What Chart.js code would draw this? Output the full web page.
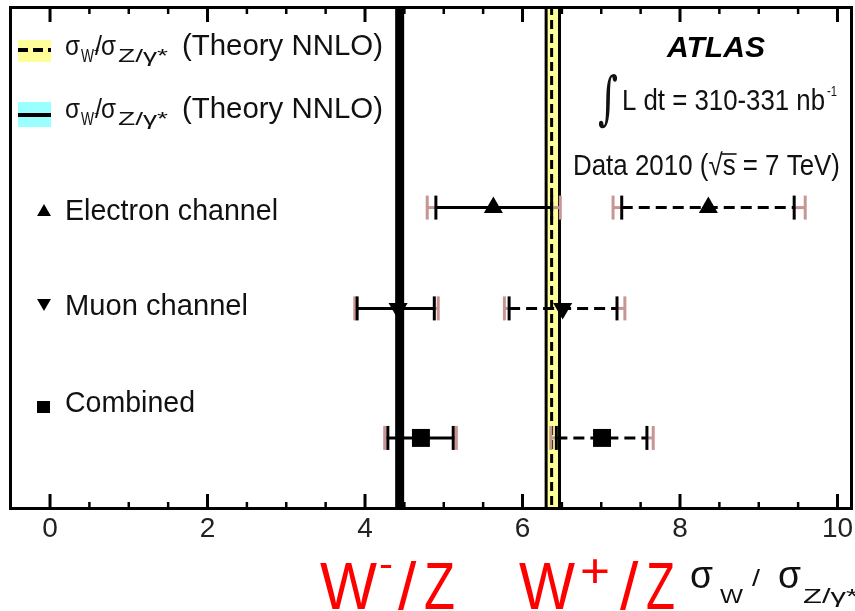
<!DOCTYPE html>
<html>
<head>
<meta charset="utf-8">
<script src="https://cdn.jsdelivr.net/npm/chart.js@4.4.0/dist/chart.umd.min.js"></script>
<style>
html, body { margin: 0; padding: 0; background: #fff; }
#wrap { width: 855px; height: 611px; }
</style>
</head>
<body>
<div id="wrap"><canvas id="chart" width="855" height="611"></canvas></div>
<script>
// rows, top to bottom
var channels = ["Electron channel", "Muon channel", "Combined"];
var rowY = [6.0, 4.0, 1.43];
var markerStyle = ["triangle", "triangle", "rect"];
var markerRot = [0, 180, 0];

// W-/Z ratio
var wmVal    = [5.63, 4.42, 4.71];
var wmStatLo = [4.90, 3.90, 4.29];
var wmStatHi = [6.37, 4.88, 5.12];
var wmTotLo  = [4.79, 3.87, 4.25];
var wmTotHi  = [6.48, 4.93, 5.16];

// W+/Z ratio
var wpVal    = [8.36, 6.51, 7.01];
var wpStatLo = [7.26, 5.83, 6.43];
var wpStatHi = [9.45, 7.20, 7.58];
var wpTotLo  = [7.15, 5.77, 6.36];
var wpTotHi  = [9.59, 7.30, 7.66];

// theory NNLO
var thWm = 4.44;
var thWp = 6.37, thWpLo = 6.30, thWpHi = 6.47;

var xTicks = [0, 2, 4, 6, 8, 10];
var xMinor = 0.5;

var FONT = "'Liberation Sans', Arial, sans-serif";
var pink = "#c99494";

function seg(c, x1, y1, x2, y2) {
    c.beginPath(); c.moveTo(x1, y1); c.lineTo(x2, y2); c.stroke();
}

// text squeezed to a given width (the original lettering is narrow)
function txt(c, s, x, y, font, w, color) {
    c.save();
    c.font = font;
    c.fillStyle = color || "#111";
    c.textBaseline = "alphabetic";
    c.textAlign = "left";
    var m = c.measureText(s).width;
    c.translate(x, y);
    if (w) c.scale(w / m, 1);
    c.fillText(s, 0, 0);
    c.restore();
}

function errBar(c, xs, py, lo, hi, tlo, thi, dashed) {
    var h = 12;
    c.setLineDash([]);
    c.lineWidth = 3;
    c.strokeStyle = pink;
    seg(c, xs.getPixelForValue(tlo), py, xs.getPixelForValue(lo), py);
    seg(c, xs.getPixelForValue(hi), py, xs.getPixelForValue(thi), py);
    seg(c, xs.getPixelForValue(tlo), py - h, xs.getPixelForValue(tlo), py + h);
    seg(c, xs.getPixelForValue(thi), py - h, xs.getPixelForValue(thi), py + h);
    c.strokeStyle = "#000";
    seg(c, xs.getPixelForValue(lo), py - h, xs.getPixelForValue(lo), py + h);
    seg(c, xs.getPixelForValue(hi), py - h, xs.getPixelForValue(hi), py + h);
    if (dashed) c.setLineDash([11, 6]);
    seg(c, xs.getPixelForValue(lo), py, xs.getPixelForValue(hi), py);
    c.setLineDash([]);
}

function tri(c, x, y, r, down) {
    var s = down ? -1 : 1;
    c.beginPath();
    c.moveTo(x, y - s * r);
    c.lineTo(x + r * 0.866, y + s * r / 2);
    c.lineTo(x - r * 0.866, y + s * r / 2);
    c.closePath(); c.fill();
}

var marks = {
    id: "marks",
    beforeDatasetsDraw: function (chart) {
        var c = chart.ctx, a = chart.chartArea, xs = chart.scales.x, ys = chart.scales.y;
        c.save();
        // W+ theory band
        var l = xs.getPixelForValue(thWpLo), r = xs.getPixelForValue(thWpHi);
        c.fillStyle = "#ffff99";
        c.fillRect(l, a.top, r - l, a.bottom - a.top);
        c.strokeStyle = "#000";
        c.lineWidth = 3;
        seg(c, l, a.top, l, a.bottom);
        seg(c, r, a.top, r, a.bottom);
        c.setLineDash([9, 5]);
        seg(c, xs.getPixelForValue(thWp), a.top, xs.getPixelForValue(thWp), a.bottom);
        c.setLineDash([]);
        // W- theory line
        c.lineWidth = 9;
        seg(c, xs.getPixelForValue(thWm), a.top, xs.getPixelForValue(thWm), a.bottom);

        for (var i = 0; i < channels.length; i++) {
            var py = ys.getPixelForValue(rowY[i]);
            errBar(c, xs, py, wmStatLo[i], wmStatHi[i], wmTotLo[i], wmTotHi[i], false);
            errBar(c, xs, py, wpStatLo[i], wpStatHi[i], wpTotLo[i], wpTotHi[i], true);
        }
        c.restore();
    },
    afterDraw: function (chart) {
        var c = chart.ctx, a = chart.chartArea, xs = chart.scales.x;
        c.save();
        // frame
        c.strokeStyle = "#000";
        c.lineWidth = 3;
        c.strokeRect(a.left + 1.5, a.top + 1.5, a.right - a.left - 3, a.bottom - a.top - 3);
        // inward ticks top and bottom
        for (var v = -0.5; v <= 10.001; v += xMinor) {
            var px = xs.getPixelForValue(v);
            var major = xTicks.indexOf(Math.round(v * 10) / 10) >= 0;
            var len = major ? 16 : 8;
            c.lineWidth = major ? 3 : 2.5;
            seg(c, px, a.top, px, a.top + len);
            seg(c, px, a.bottom, px, a.bottom - len);
        }

        // legend: theory
        c.fillStyle = "#ffff99";
        c.fillRect(18, 40, 33, 22);
        c.lineWidth = 4;
        c.setLineDash([10, 5]);
        seg(c, 18, 50, 51, 50);
        c.setLineDash([]);
        c.fillStyle = "#99ffff";
        c.fillRect(18, 102, 33, 25);
        seg(c, 18, 115, 51, 115);

        var sgn = ["+", "\u2212"];
        var base = [55, 118];
        for (var k = 0; k < 2; k++) {
            var b = base[k];
            txt(c, "\u03c3", 65, b, "28px " + FONT, 15);
            txt(c, "W", 81, b + 7, "18px " + FONT, 13);
            txt(c, sgn[k], 94, b - 1, "11px " + FONT, 5);
            txt(c, "/", 95, b, "28px " + FONT, 7);
            txt(c, "\u03c3", 101, b, "28px " + FONT, 15);
            txt(c, "Z/\u03b3*", 118, b + 7, "18px " + FONT, 50);
            txt(c, "(Theory NNLO)", 182, b, "30px " + FONT, 201);
        }

        // legend: channels
        c.fillStyle = "#000";
        tri(c, 44, 212, 8, false);
        tri(c, 44, 303, 8, true);
        c.fillRect(37, 401, 13, 12);
        txt(c, channels[0], 65, 220, "30px " + FONT, 213);
        txt(c, channels[1], 65, 315, "30px " + FONT, 183);
        txt(c, channels[2], 65, 412, "30px " + FONT, 130);

        // top right labels
        txt(c, "ATLAS", 667, 57, "italic bold 30px " + FONT, 98, "#000");
        txt(c, "\u222b", 598, 118, "58px 'DejaVu Serif', serif", 20);
        txt(c, "L dt = 310-331 nb", 622, 110, "30px " + FONT, 203);
        txt(c, "-1", 827, 96, "15px " + FONT, 10);
        var dataStr = "Data 2010 (\u221as = 7 TeV)";
        txt(c, dataStr, 573, 175, "30px " + FONT, 267);
        c.font = "30px " + FONT;
        var k2 = 267 / c.measureText(dataStr).width;
        var s0 = 573 + c.measureText("Data 2010 (\u221a").width * k2;
        var s1 = 573 + c.measureText("Data 2010 (\u221as").width * k2;
        c.lineWidth = 1.5;
        seg(c, s0 - 1, 154, s1 + 1, 154);

        // bottom lettering
        var red = "#ff0000";
        var big = "66px " + FONT;
        txt(c, "W", 320, 609, big, 57, red);
        txt(c, "-", 379, 577, "38px " + FONT, 14, red);
        txt(c, "/", 398, 609, big, 0, red);
        txt(c, "Z", 424, 609, big, 31, red);
        txt(c, "W", 519, 609, big, 56, red);
        txt(c, "+", 580, 587, "48px " + FONT, 30, red);
        txt(c, "/", 620, 609, big, 0, red);
        txt(c, "Z", 646, 609, big, 29, red);

        txt(c, "\u03c3", 690, 588, "38px " + FONT, 23, "#111");
        txt(c, "W", 720, 603, "21px " + FONT, 23, "#111");
        txt(c, "/", 752, 586, "24px " + FONT, 8, "#111");
        txt(c, "\u03c3", 778, 588, "38px " + FONT, 23, "#111");
        txt(c, "Z/\u03b3*", 803, 603, "21px " + FONT, 55, "#111");
        c.restore();
    }
};

function pts(vals) {
    return vals.map(function (v, i) { return { x: v, y: rowY[i] }; });
}

var ptStyle = {
    pointStyle: markerStyle,
    rotation: markerRot,
    pointRadius: [11, 11, 12.7],
    pointBackgroundColor: "#000",
    pointBorderColor: "#000",
    pointBorderWidth: 0,
    showLine: false
};

new Chart(document.getElementById("chart").getContext("2d"), {
    type: "scatter",
    data: {
        datasets: [
            Object.assign({ label: "W-/Z", data: pts(wmVal) }, ptStyle),
            Object.assign({ label: "W+/Z", data: pts(wpVal) }, ptStyle)
        ]
    },
    options: {
        responsive: false,
        animation: false,
        layout: { autoPadding: false, padding: { left: 9, right: 2, top: 6, bottom: 0 } },
        plugins: { legend: { display: false }, tooltip: { enabled: false } },
        scales: {
            x: {
                type: "linear",
                min: -0.521,
                max: 10.197,
                afterBuildTicks: function (s) { s.ticks = xTicks.map(function (v) { return { value: v }; }); },
                afterFit: function (s) { s.height = 101; s.paddingLeft = 0; s.paddingRight = 0; },
                grid: { display: false, drawTicks: false },
                border: { display: false },
                ticks: {
                    font: { family: FONT, size: 28 },
                    color: "#222",
                    padding: 2,
                    maxRotation: 0,
                    autoSkip: false
                }
            },
            y: { min: 0, max: 10, display: false }
        }
    },
    plugins: [marks]
});
</script>
</body>
</html>
